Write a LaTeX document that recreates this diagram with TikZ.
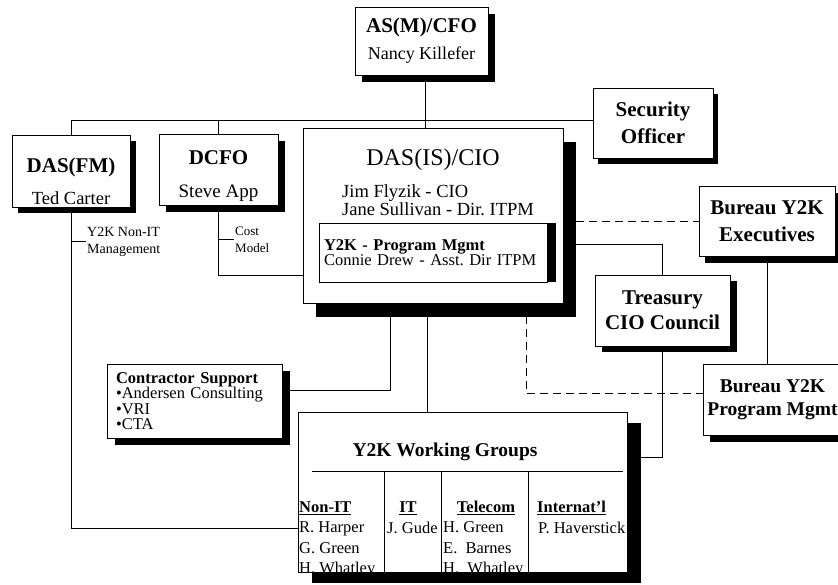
\documentclass[tikz,border=0pt]{standalone}
\usepackage{fontspec}
\setmainfont{Liberation Serif}
\usetikzlibrary{shadows,backgrounds}
\frenchspacing
\newcommand\orgtitle{\fontsize{21}{21}\selectfont\bfseries}
\tikzset{
  orgbox/.style={draw=black,line width=0.8pt,fill=white,inner sep=0pt,align=center},
  dropsh/.style 2 args={drop shadow={shadow xshift=#1,shadow yshift=-#2,fill=black,opacity=1}},
  link/.style={draw=black,line width=0.8pt},
  dotlink/.style={link,dash pattern=on 8pt off 5pt},
}
\begin{document}
\begin{tikzpicture}[x=1pt,y=-1pt,font=\fontsize{18}{22}\selectfont]
\useasboundingbox (0,0) rectangle (838,584);
% ---- top row ----
\node[orgbox,dropsh={7pt}{7pt},minimum width=133pt,minimum height=68pt,font=\fontsize{18}{27}\selectfont] (cfo) at (421.5,41) {{\orgtitle AS(M)/CFO}\\Nancy Killefer};
\node[orgbox,dropsh={5pt}{6pt},minimum width=120pt,minimum height=70pt,font=\orgtitle\fontsize{21}{27}\selectfont] (secoff) at (653,123) {Security\\Officer};

\node[orgbox,dropsh={6pt}{6pt},minimum width=118pt,minimum height=72pt,font=\fontsize{18.5}{32}\selectfont] (dasfm) at (71,171) {{\orgtitle\rule{0pt}{35pt}DAS(FM)}\\Ted Carter};
\node[orgbox,dropsh={7pt}{7pt},minimum width=119pt,minimum height=71pt,font=\fontsize{19}{33}\selectfont] (dcfo) at (218.5,169.5) {{\orgtitle\rule{0pt}{28pt}DCFO}\\Steve App};

\node[font=\fontsize{14}{17}\selectfont,align=left,anchor=west,inner sep=1.5pt] (lblnonit) at (85.5,241.5) {Y2K Non-IT\\Management};
\node[font=\fontsize{13}{17}\selectfont,align=left,anchor=west,inner sep=1.5pt] (lblcost) at (233.5,239.5) {Cost\\Model};

% ---- CIO office ----
\node[orgbox,dropsh={13pt}{14pt},minimum width=260pt,minimum height=175pt] (cio) at (433,215.5) {};
\node[font=\fontsize{24}{24}\selectfont] (ciotitle) at (433,160) {DAS(IS)/CIO};
\node[font=\fontsize{18.5}{18}\selectfont,align=left,anchor=west,inner sep=0pt] (cionames) at (342,200.5) {Jim Flyzik - CIO\\Jane Sullivan - Dir. ITPM};
\node[orgbox,dropsh={9pt}{0pt},align=left,text width=218pt,inner xsep=5pt,minimum height=59pt,font=\fontsize{16.5}{15}\selectfont] (y2kpm) at (433,252.5) {\textbf{Y2K - Program Mgmt}\\Connie Drew - Asst. Dir ITPM};

% ---- right side ----
\node[orgbox,dropsh={6pt}{7pt},minimum width=136pt,minimum height=70pt,font=\orgtitle\fontsize{21}{27}\selectfont] (execs) at (767,221) {Bureau Y2K\\Executives};
\node[orgbox,dropsh={7pt}{6pt},minimum width=135pt,minimum height=71pt,font=\orgtitle\fontsize{21}{25}\selectfont] (treasury) at (662.5,310.5) {Treasury\\CIO Council};
\node[orgbox,dropsh={7pt}{7pt},minimum width=139pt,minimum height=71pt,font=\bfseries\fontsize{19.5}{23}\selectfont] (bpm) at (772.5,399.5) {Bureau Y2K\\Program Mgmt};

% ---- contractors ----
\node[orgbox,dropsh={8pt}{7pt},align=left,text width=157pt,inner xsep=9pt,minimum height=74pt,font=\fontsize{16.5}{15.5}\selectfont] (contractor) at (194.5,401) {\textbf{Contractor Support}\\\textbullet Andersen Consulting\\\textbullet VRI\\\textbullet CTA};

% ---- working groups ----
\node[orgbox,dropsh={14pt}{11pt},minimum width=329pt,minimum height=160pt] (wg) at (462.5,492) {};
\node[font=\bfseries\fontsize{19.5}{19.5}\selectfont] (wgtitle) at (445,452) {Y2K Working Groups};
\draw[line width=1pt] (312,471) -- (623,471);
\foreach \sx in {384,441,528}
  \draw[link] (\sx,471) -- (\sx,572);
\begin{scope}[font=\bfseries\fontsize{16.5}{16.5}\selectfont,inner sep=0pt]
  \node[anchor=base west] (hdnonit) at (299,512.5) {\underline{Non-IT}};
  \node[anchor=base] (hdit) at (408,512.5) {\underline{IT}};
  \node[anchor=base] (hdtel) at (486,512.5) {\underline{Telecom}};
  \node[anchor=base west] (hdint) at (537,512.5) {\underline{Internat'l}};
\end{scope}
\begin{scope}[font=\fontsize{16.5}{20.5}\selectfont,inner sep=0pt,align=left]
  \node[anchor=north west] (nmnonit) at (299,521.5) {R. Harper\\G. Green\\H. Whatley};
  \node[anchor=north west] (nmit) at (387,521.5) {J. Gude};
  \node[anchor=north west] (nmtel) at (443,521.5) {H. Green\\E.\ \ Barnes\\H.\ \ Whatley};
  \node[anchor=north west] (nmint) at (538,521.5) {P. Haverstick};
\end{scope}

% ---- connectors (behind the boxes) ----
\coordinate (bar) at ([yshift=3pt]secoff.west);
\coordinate (cfojoin) at ([xshift=3.5pt]cfo.south);
\coordinate (nonitjoin) at ([yshift=-36pt]wg.west);
\coordinate (costjoin) at ([yshift=28pt]cio.south west);
\coordinate (ctrjoin) at ([yshift=11pt]contractor.east);
\coordinate (wgdown) at ([xshift=-6pt]cio.south);
\coordinate (bpmjoin) at ([yshift=6.5pt]bpm.west);
\coordinate (trsjoin) at ([yshift=-28.5pt]cio.east);
\coordinate (wgjoin) at ([yshift=35pt]wg.east);
\begin{scope}[on background layer]
  \fill[white] (0,0) rectangle (838,584);
  \draw[link] (dasfm.north) |- (bar);
  \draw[link] (dcfo.north) -- (dcfo.north |- bar);
  \draw[link] (cfojoin) -- (cfojoin |- cio.north);
  \draw[link] (dasfm.south) |- (nonitjoin);
  \draw[link] (dcfo.south) |- (costjoin);
  \draw[link] (dasfm.south |- lblnonit.west) -- (lblnonit.west);
  \draw[link] (dcfo.south |- lblcost.west) -- (lblcost.west);
  \draw[link] ([xshift=-43pt]cio.south) |- (ctrjoin);
  \draw[link] (wgdown) -- (wgdown |- wg.north);
  \draw[dotlink] ([xshift=93pt]cio.south) |- (bpmjoin);
  \draw[dotlink] (cio.east |- execs.west) -- (execs.west);
  \draw[link] (trsjoin) -| (treasury.north);
  \draw[link] (treasury.south) |- (wgjoin);
  \draw[link] (execs.south) -- (execs.south |- bpm.north);
\end{scope}
\end{tikzpicture}
\end{document}
